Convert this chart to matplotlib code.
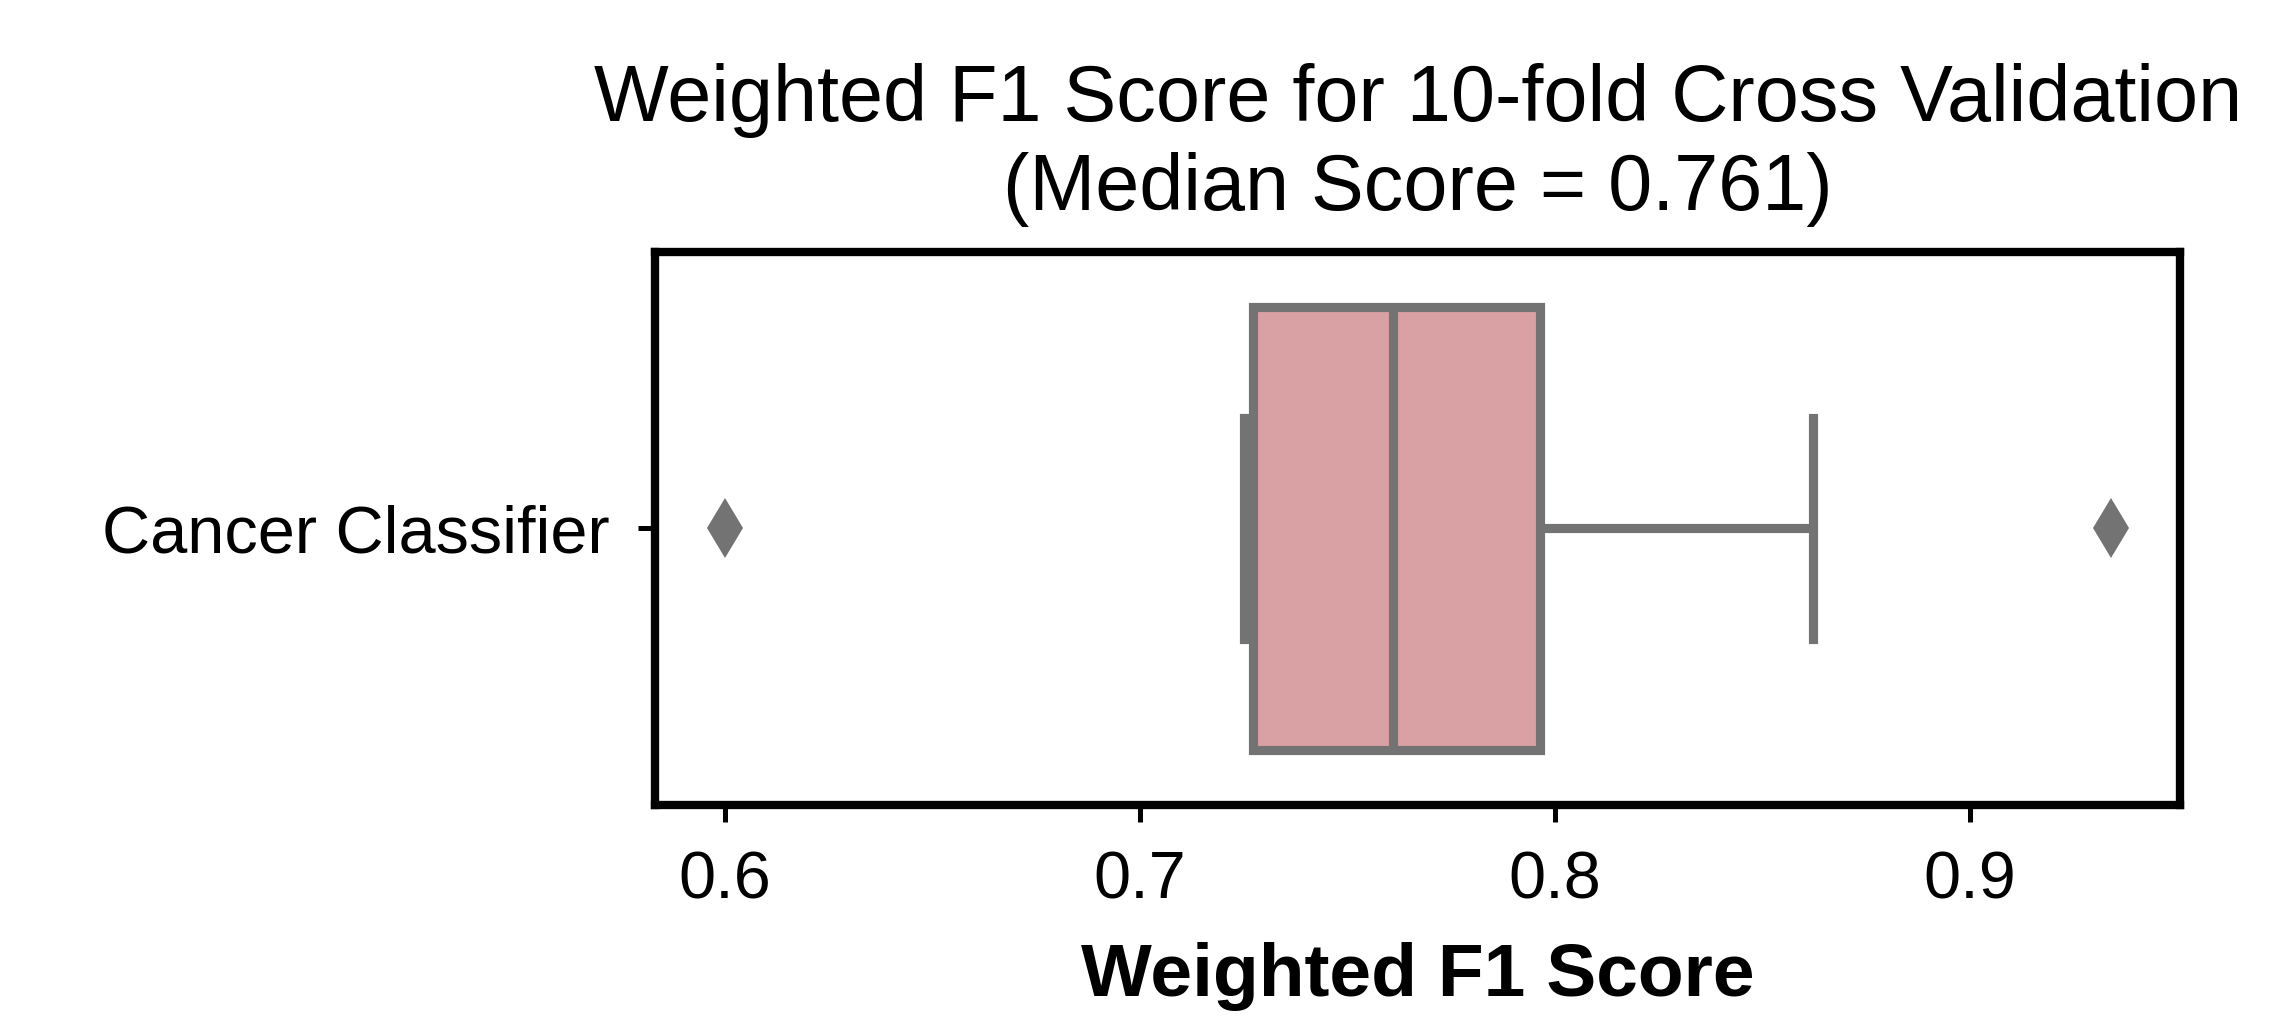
import numpy as np
import matplotlib
matplotlib.use("Agg")
import matplotlib.pyplot as plt
import seaborn as sns

# weighted F1 score of each of the 10 cross validation folds
fold_scores = [0.600, 0.7252, 0.7262, 0.7306, 0.7548, 0.7672, 0.7801, 0.8020, 0.8622, 0.934]
model_names = ["Cancer Classifier"] * len(fold_scores)
tick_values = [0.6, 0.7, 0.8, 0.9]

plt.rcParams['font.family'] = ['Liberation Sans', 'DejaVu Sans']

box_color = "#DAA1A4"
line_color = "#737373"

fig = plt.figure(figsize=(2283 / 300, 1024 / 300), dpi=300)
ax = fig.add_axes([0.287, 0.214, 0.668, 0.540])

# 'd' marker height is about sqrt(2) * markersize
sns.boxplot(x=fold_scores, y=model_names, orient="h", ax=ax,
            color=box_color, saturation=1, linewidth=2.2, width=0.8,
            linecolor=line_color,
            flierprops=dict(marker="d", markersize=10.2, markerfacecolor=line_color,
                            markeredgecolor=line_color, markeredgewidth=0))

median_score = np.median(fold_scores)
ax.set_title("Weighted F1 Score for 10-fold Cross Validation\n(Median Score = %.3f)" % median_score,
             fontsize=19, pad=10, linespacing=1.25)
ax.set_xlabel("Weighted F1 Score", fontsize=18, fontweight="bold", labelpad=7)
ax.set_ylabel("")
ax.set_xticks(tick_values)
ax.tick_params(axis="both", labelsize=16, length=4, width=1.2, pad=7)

for spine in ax.spines.values():
    spine.set_linewidth(2)
    spine.set_color("black")

fig.savefig("out.png", dpi=300)
